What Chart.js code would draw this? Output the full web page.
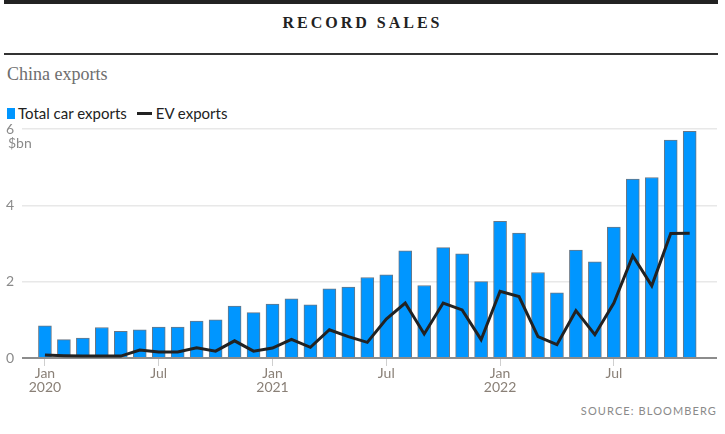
<!DOCTYPE html>
<html>
<head>
<meta charset="utf-8">
<script src="https://cdn.jsdelivr.net/npm/chart.js@4.4.1/dist/chart.umd.min.js"></script>
<style>
  body { margin: 0; background: #fff; width: 725px; height: 434px; position: relative; overflow: hidden; }
  .topbar { position: absolute; left: 4px; top: 0; width: 714px; height: 4px; background: #222; }
  .title { position: absolute; left: 0; width: 725px; top: 14px; text-align: center;
    font: bold 16px "Liberation Serif", serif; letter-spacing: 3px; color: #222; }
  .rule { position: absolute; left: 4px; top: 53px; width: 714px; height: 2px; background: #333; }
  .sub { position: absolute; left: 7px; top: 64px; font: 18px "Liberation Serif", serif; color: #6e6e6e; }
  .legend { position: absolute; left: 7px; top: 102px; font: 15px Lato, sans-serif; color: #222; }
  .legend span { display: inline-block; vertical-align: middle; }
  .sw { width: 8px; height: 11px; background: #0096ff; margin-right: 3px; }
  .ln { width: 15px; height: 3px; background: #222; margin: 0 4px 0 10px; }
  .src { position: absolute; right: 8px; top: 404px; font: 11px Lato, sans-serif;
    letter-spacing: 1.1px; color: #8a8a8a; }
  #wrap { position: absolute; left: 0; top: 114px; width: 725px; height: 286px; }
</style>
</head>
<body>
<div class="topbar"></div>
<div class="title">RECORD SALES</div>
<div class="rule"></div>
<div class="sub">China exports</div>
<div class="legend"><span class="sw"></span><span>Total car exports</span><span class="ln"></span><span>EV exports</span></div>
<div id="wrap"><canvas id="chart" width="725" height="286"></canvas></div>
<div class="src">SOURCE: BLOOMBERG</div>
<script>
// months Jan 2020 .. Nov 2022, $bn
const months = ['2020-01','2020-02','2020-03','2020-04','2020-05','2020-06','2020-07','2020-08','2020-09','2020-10','2020-11','2020-12',
  '2021-01','2021-02','2021-03','2021-04','2021-05','2021-06','2021-07','2021-08','2021-09','2021-10','2021-11','2021-12',
  '2022-01','2022-02','2022-03','2022-04','2022-05','2022-06','2022-07','2022-08','2022-09','2022-10','2022-11'];
const totalExports = [0.84, 0.48, 0.52, 0.80, 0.70, 0.74, 0.81, 0.81, 0.97, 1.00, 1.36, 1.19,
  1.41, 1.55, 1.39, 1.81, 1.86, 2.11, 2.18, 2.81, 1.90, 2.89, 2.73, 2.00,
  3.58, 3.27, 2.24, 1.71, 2.83, 2.52, 3.43, 4.69, 4.73, 5.71, 5.94];
const evExports = [0.08, 0.06, 0.05, 0.05, 0.05, 0.21, 0.16, 0.16, 0.27, 0.18, 0.45, 0.18,
  0.26, 0.49, 0.28, 0.74, 0.56, 0.41, 1.02, 1.44, 0.63, 1.44, 1.26, 0.48,
  1.75, 1.61, 0.56, 0.35, 1.24, 0.61, 1.44, 2.68, 1.89, 3.26, 3.27];
const xTickPos = [0, 6, 12, 18, 24, 30];
const xTickLabels = [['Jan', '2020'], 'Jul', ['Jan', '2021'], 'Jul', ['Jan', '2022'], 'Jul'];
const yTicks = [0, 2, 4, 6];

const axisFont = { family: 'Lato, sans-serif', size: 14, lineHeight: 1 };

// "$bn" under the top y label
const unitLabel = {
  id: 'unitLabel',
  afterDraw(chart) {
    const c = chart.ctx, y = chart.scales.y;
    c.save();
    c.font = '14px ' + axisFont.family;
    c.fillStyle = '#8a8a8a';
    c.textAlign = 'left';
    c.textBaseline = 'middle';
    c.fillText('$bn', 8, y.getPixelForValue(6) + 14);
    c.restore();
  }
};

new Chart(document.getElementById('chart'), {
  type: 'bar',
  data: {
    datasets: [
      {
        type: 'line',
        label: 'EV exports',
        data: evExports.map((v, i) => ({ x: i, y: v })),
        borderColor: '#222',
        borderWidth: 3,
        pointRadius: 0,
        tension: 0,
        order: 0
      },
      {
        label: 'Total car exports',
        data: totalExports.map((v, i) => ({ x: i, y: v })),
        backgroundColor: '#0096ff',
        borderColor: 'rgba(80,95,110,0.85)',
        borderWidth: { top: 1, left: 1, right: 1, bottom: 0 },
        borderSkipped: false,
        barThickness: 13,
        order: 1
      }
    ]
  },
  options: {
    responsive: false,
    animation: false,
    layout: { padding: { top: 7, right: 8, left: 0, bottom: 0 } },
    plugins: { legend: { display: false }, tooltip: { enabled: false } },
    scales: {
      x: {
        type: 'linear',
        offset: false,
        min: -1.21,
        max: 35.44,
        afterBuildTicks: s => { s.ticks = xTickPos.map(v => ({ value: v })); },
        afterFit: s => { s.height = 42; },
        ticks: {
          callback: (v, i) => xTickLabels[i],
          color: '#8a8077',
          font: axisFont,
          padding: 0,
          maxRotation: 0,
          autoSkip: false
        },
        grid: { offset: false, drawOnChartArea: false, tickLength: 8, color: '#cfcfcf' },
        border: { display: false }
      },
      y: {
        min: 0,
        max: 6,
        afterBuildTicks: s => { s.ticks = yTicks.map(v => ({ value: v })); },
        afterFit: s => { s.width = 22; },
        ticks: { color: '#8a8a8a', font: axisFont, padding: 8 },
        grid: {
          drawTicks: false,
          lineWidth: c => c.tick && c.tick.value === 0 ? 2 : 1.5,
          color: c => c.tick && c.tick.value === 0 ? '#8c8c8c' : '#e8e8e8'
        },
        border: { display: false }
      }
    }
  },
  plugins: [unitLabel]
});
</script>
</body>
</html>
